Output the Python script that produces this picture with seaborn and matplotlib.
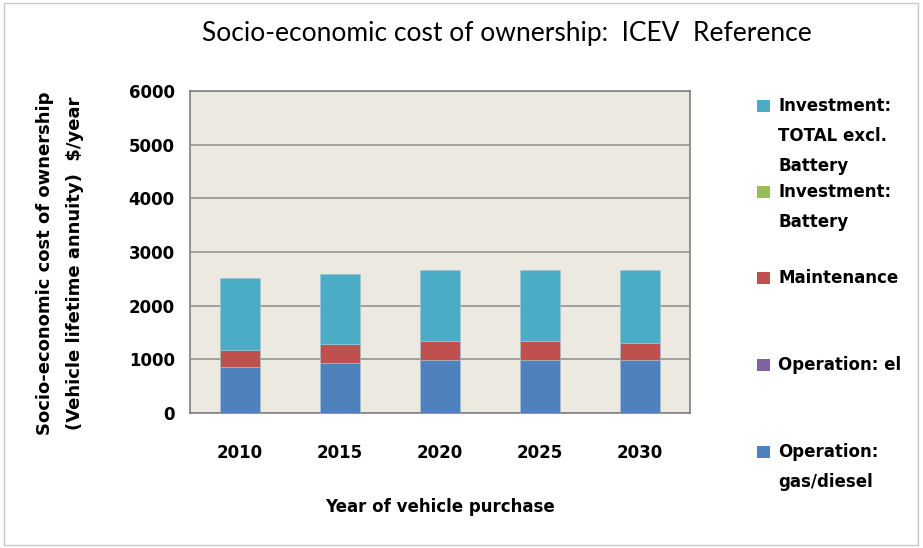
import matplotlib
matplotlib.use("Agg")
import matplotlib.pyplot as plt
from matplotlib.patches import Rectangle
import numpy as np
import seaborn as sns

# Chart data ($/year, vehicle lifetime annuity)
years = ["2010", "2015", "2020", "2025", "2030"]
operation_gas_diesel = [855, 925, 995, 995, 995]
operation_el = [0, 0, 0, 0, 0]
maintenance = [310, 360, 355, 355, 315]
investment_battery = [0, 0, 0, 0, 0]
investment_excl_battery = [1355, 1302, 1310, 1310, 1350]

series_names = ["Operation: gas/diesel", "Operation: el", "Maintenance",
                "Investment: Battery", "Investment: TOTAL excl. Battery"]
series_values = [operation_gas_diesel, operation_el, maintenance,
                 investment_battery, investment_excl_battery]
series_colors = ["#4F81BD", "#8064A2", "#C0504D", "#9BBB59", "#4BACC6"]

y_ticks = [0, 1000, 2000, 3000, 4000, 5000, 6000]

sns.set_theme(style="white")
plt.rcParams["font.family"] = ["DejaVu Sans"]
plt.rcParams["text.color"] = "black"
plt.rcParams["xtick.labelcolor"] = "black"
plt.rcParams["ytick.labelcolor"] = "black"

W, H = 923, 548
fig = plt.figure(figsize=(W / 100, H / 100), dpi=100)
fig.patch.set_facecolor("white")

# axes placed in pixel coordinates
left, right, top, bottom = 190, 690, 91, 413
ax = fig.add_axes([left / W, 1 - bottom / H, (right - left) / W, (bottom - top) / H])
ax.set_facecolor("#ECEAE0")

base = np.zeros(len(years))
for name, vals, col in zip(series_names, series_values, series_colors):
    sns.barplot(x=years, y=vals, bottom=base, color=col, width=0.4,
                saturation=1, edgecolor="#9fc4d8", linewidth=0.4, ax=ax,
                zorder=3)
    base = base + np.array(vals)

ax.set_xlim(-0.5, len(years) - 0.5)
ax.set_ylim(0, 6000)
ax.set_yticks(y_ticks)
ax.set_yticklabels([str(t) for t in y_ticks], fontsize=12, fontweight="bold",
                   color="black")
ax.set_xticks(range(len(years)))
ax.set_xticklabels(years, fontsize=12, fontweight="bold", color="black")
ax.set_xticks(np.arange(-0.5, len(years)), minor=True)
ax.tick_params(axis="x", which="major", length=0, pad=22)
ax.tick_params(axis="x", which="minor", length=6, width=1, color="#a0a0a0",
               direction="out")
ax.tick_params(axis="y", which="major", length=7, width=1, color="#a0a0a0",
               direction="out", pad=4)

ax.grid(axis="y", color="#8c8c8c", linewidth=1.1, zorder=0)
ax.set_axisbelow(True)
for side, sp in ax.spines.items():
    sp.set_visible(True)
    sp.set_color("#808080")
    sp.set_linewidth(1.2)
ax.set_xlabel("")
ax.set_ylabel("")

# titles and axis labels
fig.text(507 / W, 1 - 33 / H, "Socio-economic cost of ownership:  ICEV  Reference",
         ha="center", va="center", fontsize=19, family="Lato", color="black")
fig.text(440 / W, 1 - 507 / H, "Year of vehicle purchase", ha="center",
         va="center", fontsize=12, fontweight="bold", color="black")
fig.text(45 / W, 1 - 263 / H, "Socio-economic cost of ownership", ha="center",
         va="center", rotation=90, fontsize=13, fontweight="bold", color="black")
fig.text(75 / W, 1 - 263 / H, "(Vehicle lifetime annuity)  $/year", ha="center",
         va="center", rotation=90, fontsize=13, fontweight="bold", color="black")

# legend, drawn entry by entry
legend_entries = [
    (106, ["Investment:", "TOTAL excl.", "Battery"], series_colors[4]),
    (192, ["Investment:", "Battery"], series_colors[3]),
    (278, ["Maintenance"], series_colors[2]),
    (365, ["Operation: el"], series_colors[1]),
    (452, ["Operation:", "gas/diesel"], series_colors[0]),
]
for ypix, lines, col in legend_entries:
    fig.patches.append(Rectangle((757 / W, 1 - (ypix + 6) / H), 13 / W, 12 / H,
                                 transform=fig.transFigure, facecolor=col,
                                 edgecolor="none"))
    for i, line in enumerate(lines):
        fig.text(778 / W, 1 - (ypix + i * 30) / H, line, ha="left", va="center",
                 fontsize=12, fontweight="bold", color="black")

# chart area border
fig.patches.append(Rectangle((4 / W, 3 / H), (W - 9) / W, (H - 6) / H,
                             transform=fig.transFigure, facecolor="none",
                             edgecolor="#c8c8c8", linewidth=1))

fig.savefig("out.png", dpi=100)
